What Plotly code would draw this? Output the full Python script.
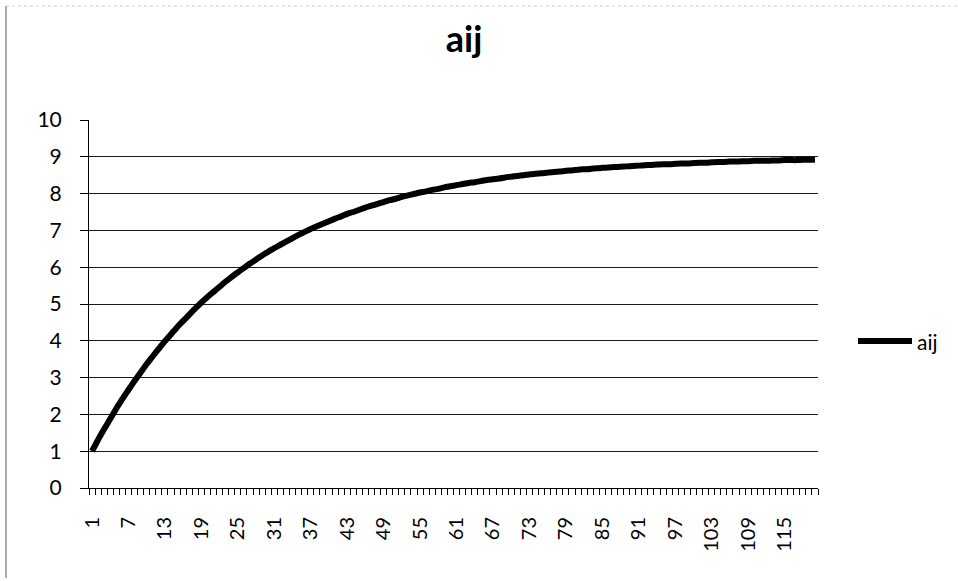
import plotly.graph_objects as go

categories = list(range(1, 121))
aij = [
    1.00, 1.31, 1.60, 1.88, 2.16, 2.42, 2.67, 2.91, 3.14, 3.37,
    3.58, 3.79, 3.99, 4.18, 4.37, 4.54, 4.71, 4.88, 5.04, 5.19,
    5.33, 5.47, 5.61, 5.74, 5.86, 5.98, 6.10, 6.21, 6.32, 6.42,
    6.52, 6.61, 6.70, 6.79, 6.88, 6.96, 7.04, 7.11, 7.18, 7.25,
    7.32, 7.38, 7.45, 7.50, 7.56, 7.62, 7.67, 7.72, 7.77, 7.82,
    7.86, 7.91, 7.95, 7.99, 8.03, 8.06, 8.10, 8.13, 8.17, 8.20,
    8.23, 8.26, 8.29, 8.31, 8.34, 8.37, 8.39, 8.41, 8.44, 8.46,
    8.48, 8.50, 8.52, 8.54, 8.55, 8.57, 8.59, 8.60, 8.62, 8.63,
    8.65, 8.66, 8.67, 8.69, 8.70, 8.71, 8.72, 8.73, 8.74, 8.75,
    8.76, 8.77, 8.78, 8.79, 8.80, 8.80, 8.81, 8.82, 8.82, 8.83,
    8.84, 8.84, 8.85, 8.86, 8.86, 8.87, 8.87, 8.88, 8.88, 8.89,
    8.89, 8.89, 8.90, 8.90, 8.91, 8.91, 8.91, 8.92, 8.92, 8.92,
]
x_tick_labels = [str(v) for v in range(1, 121, 6)]
y_ticks = list(range(0, 11))
series_name = "aij"

FONT = "Lato, 'Open Sans', sans-serif"
L, R, T, B = 89, 818, 120, 488
PW, PH = R - L, B - T

fig = go.Figure()
fig.add_trace(go.Scatter(
    x=categories, y=aij, mode="lines", name=series_name,
    line=dict(color="black", width=6, simplify=False, shape="spline", smoothing=0.6),
    showlegend=False,
))
# invisible copy on an overlay axis that only carries the per-category tick marks
fig.add_trace(go.Scatter(
    x=categories, y=aij, mode="lines", xaxis="x2", opacity=0,
    hoverinfo="skip", showlegend=False, line=dict(width=0),
))

fig.update_layout(
    width=958, height=581,
    margin=dict(l=L, r=958 - R, t=T, b=581 - B),
    paper_bgcolor="white", plot_bgcolor="white",
    font=dict(family=FONT, color="black", size=20),
    title=dict(text="<b>" + series_name + "</b>", x=464 / 958, xanchor="center",
               y=1 - 39 / 581, yanchor="middle",
               font=dict(size=36, family=FONT, color="black")),
    showlegend=False,
    xaxis=dict(
        range=[0.5, 120.5],
        tickmode="array", tickvals=[int(t) for t in x_tick_labels], ticktext=x_tick_labels,
        tickangle=-90, ticks="", showgrid=False,
        showline=True, linecolor="black", linewidth=1,
        tickfont=dict(size=20, family=FONT),
        ticklabelstandoff=20,
        zeroline=False,
    ),
    xaxis2=dict(
        range=[0.5, 120.5], overlaying="x", anchor="y", side="bottom",
        tickmode="linear", tick0=0.5, dtick=1, ticks="outside", ticklen=6,
        tickcolor="black", tickwidth=1, showticklabels=False, showgrid=False,
        showline=False, zeroline=False,
    ),
    yaxis=dict(
        range=[0, 10],
        tickmode="array", tickvals=y_ticks,
        ticks="outside", ticklen=8, tickcolor="black", tickwidth=1,
        showgrid=True, gridcolor="#1a1a1a", gridwidth=1,
        showline=True, linecolor="black", linewidth=1,
        tickfont=dict(size=21, family=FONT),
        ticklabelstandoff=14,
        zeroline=False,
    ),
)

# legend drawn as a key line plus label, matching the Excel legend
legend_y = (B - 341) / PH
fig.add_shape(type="line", xref="paper", yref="paper",
              x0=(858 - L) / PW, x1=(912 - L) / PW, y0=legend_y, y1=legend_y,
              line=dict(color="black", width=6))
fig.add_annotation(xref="paper", yref="paper", x=(915 - L) / PW, y=legend_y,
                   xanchor="left", yanchor="middle", text=series_name, showarrow=False,
                   font=dict(size=21, family=FONT, color="black"))

# chart-area frame (left edge of the Excel chart border)
fig.add_shape(type="line", xref="paper", yref="paper",
              x0=(6 - L) / PW, x1=(6 - L) / PW,
              y0=(B - 578) / PH, y1=(B - 6) / PH,
              line=dict(color="#555555", width=1))
fig.add_shape(type="line", xref="paper", yref="paper",
              x0=(6 - L) / PW, x1=(958 - L) / PW,
              y0=(B - 6) / PH, y1=(B - 6) / PH,
              line=dict(color="#cccccc", width=1, dash="dot"))

fig.write_html("out.html")
